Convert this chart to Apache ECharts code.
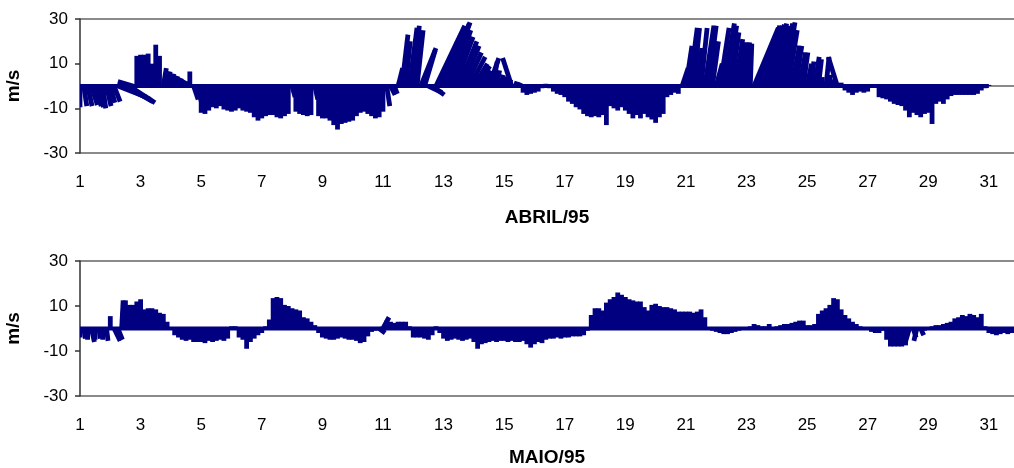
<!DOCTYPE html>
<html>
<head>
<meta charset="utf-8">
<script src="https://cdn.jsdelivr.net/npm/echarts@6/dist/echarts.min.js"></script>
<style>
  html, body { margin: 0; padding: 0; background: #ffffff; }
  #chart { width: 1014px; height: 468px; }
</style>
</head>
<body>
<div id="chart"></div>
<script>
// Wind vectors (stick plot), one observation every 3 hours.
// Day-of-month tick labels and y tick labels
const diasTicks = [1, 3, 5, 7, 9, 11, 13, 15, 17, 19, 21, 23, 25, 27, 29, 31];
const velTicks = [-30, -10, 10, 30];
const passosPorDia = 8;

// April 1995: north component v (m/s), one row per day
const abrilV = [
  -9.5, -9, -9, -8.5, -9, -9.5, -10, -9,
  -7.5, -7, -5, -6, -7, -7.5, 2, 13.5,
  14, 14, 14.5, 10, 18.5, 13.5, 8, 6.5,
  5.5, 4.5, 3.5, 2.5, 1.5, 6.5, -6, -8,
  -12, -12.5, -11, -9.5, -10, -9, -10.5, -11,
  -11.5, -11, -10, -11, -11.5, -12, -14, -15.5,
  -14.5, -13.5, -13, -13, -14, -14.5, -13.5, -12.5,
  -5, -11.5, -12.5, -13, -13.5, -13, -6, -13.5,
  -14.5, -14.5, -15.5, -17.5, -19.5, -17, -16.5, -16,
  -15.5, -13.5, -12, -11.5, -12.5, -13.5, -14.5, -14,
  -11.5, -9, -4, -3.5, 8, 23, 20, 26,
  27, 25, 17, 16, -3, -4, 27, 26,
  28, 28.5, 25, 22, 20, 18, 15, 13,
  10, 9, 7, 6, 12.5, 11, 7, 5,
  4, 3, 12.5, 2, 1.5, -3, -4, -3.5,
  -3, -2.5, -1, 1, -1, -2.5, -3.5, -4,
  -5, -7, -8, -9.5, -10.5, -12.5, -13.5, -14,
  -13.5, -14, -13, -17.5, -9, -10, -11, -9.5,
  -11, -12.5, -14.5, -13, -14.5, -12.5, -14, -15,
  -16.5, -14, -12.5, -5, -4, -3, -3.5, 8,
  18, 26, 26, 17, 26, 27, 27, 20,
  10, 26, 28, 27, 24, 21, 19.5, 19.5,
  19.5, 19, 26, 26, 27, 27, 27.5, 28,
  27, 28, 28.5, 25, 18, 18, 15, 15,
  10, 11, 13, 12, 4, 13, 5, 3,
  13, 1.5, -2, -3, -4, -3, -2.5, -3,
  -2.5, -0.5, -0.5, -5, -5.5, -6, -7, -8,
  -8.5, -9, -11, -14, -12, -13, -14, -12.5,
  -12, -17, -8, -7, -8, -6, -4.5, -4,
  -4, -4, -4, -4, -4, -3.5, -2, -1,
  0.5
];
// April 1995: east component u (m/s)
const abrilU = [
  0, 2, 3, 4, 4, 3, 2, 3,
  3, 4, 19, 19, 18, 17, -10, 0,
  0, 0, 0, 0, 0, 0, 2, 2,
  2, 2, 2, 2, 2, 0, 3, 3,
  0, 0, 0, 0, 0, 0, 0, 0,
  0, 0, 0, 0, 0, 0, 0, 0,
  0, 0, 0, 0, 0, 0, 0, 0,
  2, 0, 0, 0, 0, 0, 2, 0,
  0, 0, 0, 0, 0, 0, 0, 0,
  0, 0, 0, 0, 0, 0, 0, 0,
  0, 2, 3, 2, 3, 4, 3, 5,
  4, 4, 10, 7, 9, 8, 19, 18,
  17, 15, 13, 12, 12, 11, 10, 10,
  9, 8, 6, 4, 6.5, 3, 2, 2,
  2, 2, -6, 1, 1, 0, 0, 0,
  0, 0, 0, 0, 0, 0, 0, 0,
  0, 0, 0, 0, 0, 0, 0, 0,
  0, 0, 0, 0, 0, 0, 0, 0,
  0, 0, 0, 0, 0, 0, 0, 0,
  0, 0, 0, 0, 0, 0, 0, 4,
  4, 5, 4, 3, 4, 6, 5, 4,
  4, 6, 7, 6, 5, 5, 4, 3,
  2, 1, 16, 14, 12, 11, 10, 9,
  8, 8, 7, 6, 5, 4, 4, 3,
  3, 2, 3, 2, 0, 2, 0, 0,
  -6, 0, 0, 0, 0, 0, 0, 0,
  0, 0, 0, 0, 0, 0, 0, 0,
  0, 0, 0, 0, 0, 0, 0, 0,
  0, 0, 0, 0, 0, 0, 0, 0,
  0, 0, 0, 0, 0, 0, 0, 0,
  0
];

// May 1995: north component v (m/s)
const maioV = [
  -4, -4.5, -5, -6, -5, -4.5, -5, -5.5,
  5.5, -5.5, -5, 12.5, 12.5, 10.5, 10.5, 12,
  13, 8.5, 9, 9, 8.5, 7, 6.5, 3,
  0.5, -3, -4, -5, -5.5, -5, -6, -6,
  -6, -6.5, -5.5, -6, -5.5, -5, -5.5, -4.5,
  1, 1, -4, -5, -9, -6, -4.5, -3,
  -2, 1, 4, 13.5, 14, 13.5, 10.5, 10,
  9, 8.5, 8, 5, 4.5, 3, 1.5, -2,
  -4, -4.5, -5, -5, -4.5, -4, -4.5, -5,
  -5, -5.5, -6.5, -6, -3.5, -1.5, -1, -2,
  5, 3.5, 3, 2.5, 3, 3, 3, 1,
  -4, -4, -4, -4.5, -5, -3, 1, -2,
  -4.5, -5.5, -5, -4.5, -5, -5.5, -5, -4.5,
  -6, -9, -7, -6.5, -6, -5.5, -6, -5.5,
  -5.5, -6, -5.5, -6, -6, -5.5, -7, -8.5,
  -7, -6, -6.5, -5, -4.5, -4.5, -4, -4.5,
  -4, -4, -3.5, -3.5, -3.5, -3, -1, 6,
  9, 9, 8, 11.5, 13, 14, 16, 15,
  14, 13, 12.5, 12, 12, 9.5, 8, 10.5,
  11, 10, 9.5, 9.5, 9, 8.5, 7.5, 7.5,
  7.5, 7.5, 7, 7.5, 8.5, 5, -0.5, -1,
  -1.5, -2, -2.5, -2.5, -2, -1.5, -1, 0.5,
  0.5, 1, 2, 1.5, 1, 1, 2, 0.5,
  1, 1.5, 2, 2, 2.5, 3, 3.5, 3.5,
  1.5, 1.5, 2, 6.5, 8, 9, 10.5, 13.5,
  13, 8.5, 6, 4.5, 3, 2, 1, 0.5,
  0.5, -1.5, -2, -2, -1, -5, -8, -8,
  -8, -8, -7.5, -7, -4, -5.5, -3, -1,
  0.5, 1, 1.5, 1.5, 2, 2.5, 3, 4.5,
  5, 6, 5.5, 6.5, 6, 5, 6.5, 1,
  -2, -2.5, -3, -2.5, -2, -2.5, -2, -2
];
// May 1995: east component u (m/s)
const maioU = [
  0, 1, 0, 2, 0, 1, 0, 1,
  0, 4, 3, 1, 0, 0, 0, 0,
  0, 0, 0, 0, 0, 0, 0, 0,
  0, 0, 0, 0, 0, 0, 0, 0,
  0, 0, 0, 0, 0, 0, 0, 0,
  0, 0, 0, 0, 0, 0, 0, 0,
  0, 0, 0, 0, 0, 0, 0, 0,
  0, 0, 0, 0, 0, 0, 0, 0,
  0, 0, 0, 0, 0, 0, 0, 0,
  0, 0, 0, 0, 0, 0, 0, 4,
  4, 0, 0, 0, 0, 0, 0, 0,
  0, 0, 0, 0, 0, 0, 0, 0,
  0, 0, 0, 0, 0, 0, 0, 0,
  0, 0, 0, 0, 0, 0, 0, 0,
  0, 0, 0, 0, 0, 0, 0, 0,
  0, 0, 0, 0, 0, 0, 0, 0,
  0, 0, 0, 0, 0, 0, 0, 0,
  0, 0, 0, 0, 0, 0, 0, 0,
  0, 0, 0, 0, 0, 0, 0, 0,
  0, 0, 0, 0, 0, 0, 0, 0,
  0, 0, 0, 0, 0, 0, 0, 0,
  0, 0, 0, 0, 0, 0, 0, 0,
  0, 0, 0, 0, 0, 0, 0, 0,
  0, 0, 0, 0, 0, 0, 0, 0,
  0, 0, 0, 0, 0, 0, 0, 0,
  0, 0, 0, 0, 0, 0, 0, 0,
  0, 0, 0, 0, 0, 0, 0, 0,
  0, 0, 0, -3, 2, -2, 2, 0,
  0, 0, 0, 0, 0, 0, 0, 0,
  0, 0, 0, 0, 0, 0, 0, 0,
  0, 0, 0, 0, 0, 0, 0, 0
];

// Horizontal stick length: days of the time axis per m/s of u
const diasPorMs = 0.05;
const AZUL = '#000080';
const CINZA = '#8a8a8a';
const FONTE = '"Liberation Sans", Arial, sans-serif';

function sticks(u, v) {
  return v.map((vi, i) => [1 + i / passosPorDia, u[i], vi]);
}
function linhaBase(v) {
  return [[1, 0], [1 + (v.length - 1) / passosPorDia, 0]];
}

function renderStick(params, api) {
  const t = api.value(0), u = api.value(1), v = api.value(2);
  const p0 = api.coord([t, 0]);
  const p1 = api.coord([t + u * diasPorMs, v]);
  return {
    type: 'line',
    shape: { x1: p0[0], y1: p0[1], x2: p1[0], y2: p1[1] },
    style: { stroke: AZUL, lineWidth: 4.8 }
  };
}

function eixoX(grid, nome, gap) {
  return {
    type: 'value', gridIndex: grid, min: 1, max: 31.83,
    axisLine: { show: false, onZero: false },
    axisTick: { show: false },
    splitLine: { show: false },
    axisLabel: { customValues: diasTicks, fontSize: 17, color: '#000', margin: 21, fontFamily: FONTE },
    name: nome, nameLocation: 'middle', nameGap: gap,
    nameTextStyle: { fontSize: 19, fontWeight: 'bold', color: '#000', fontFamily: FONTE }
  };
}
function eixoY(grid) {
  return {
    type: 'value', gridIndex: grid, min: -30, max: 30,
    axisLine: { show: true, onZero: false, lineStyle: { color: '#333', width: 1.5 } },
    axisTick: { show: true, customValues: velTicks, length: 5, lineStyle: { color: '#333', width: 1.5 } },
    axisLabel: { customValues: velTicks, fontSize: 17, color: '#000', margin: 12, fontFamily: FONTE },
    splitLine: { show: false },
    name: 'm/s', nameLocation: 'middle', nameRotate: 90, nameGap: 57,
    nameTextStyle: { fontSize: 19, fontWeight: 'bold', color: '#000', fontFamily: FONTE }
  };
}
// Reference lines at 30, 0 and -30
function eixoGuia(grid) {
  return {
    type: 'value', gridIndex: grid, min: -30, max: 30, interval: 30, position: 'left',
    axisLine: { show: false, onZero: false }, axisTick: { show: false }, axisLabel: { show: false },
    splitLine: { show: true, lineStyle: { color: CINZA, width: 2 } }
  };
}

const chart = echarts.init(document.getElementById('chart'), null, { renderer: 'canvas' });
chart.setOption({
  animation: false,
  backgroundColor: '#ffffff',
  grid: [
    { left: 80, right: 0, top: 19, height: 134, containLabel: false, outerBoundsMode: 'none' },
    { left: 80, right: 0, top: 261, height: 135, containLabel: false, outerBoundsMode: 'none' }
  ],
  xAxis: [eixoX(0, 'ABRIL/95', 55), eixoX(1, 'MAIO/95', 52)],
  yAxis: [eixoY(0), eixoGuia(0), eixoY(1), eixoGuia(1)],
  series: [
    { type: 'line', xAxisIndex: 0, yAxisIndex: 0, data: linhaBase(abrilV), showSymbol: false,
      lineStyle: { color: AZUL, width: 4 }, z: 2 },
    { type: 'custom', xAxisIndex: 0, yAxisIndex: 0, data: sticks(abrilU, abrilV),
      renderItem: renderStick, clip: true, z: 3 },
    { type: 'line', xAxisIndex: 1, yAxisIndex: 2, data: linhaBase(maioV), showSymbol: false,
      lineStyle: { color: AZUL, width: 4 }, z: 2 },
    { type: 'custom', xAxisIndex: 1, yAxisIndex: 2, data: sticks(maioU, maioV),
      renderItem: renderStick, clip: true, z: 3 }
  ]
});
</script>
</body>
</html>
